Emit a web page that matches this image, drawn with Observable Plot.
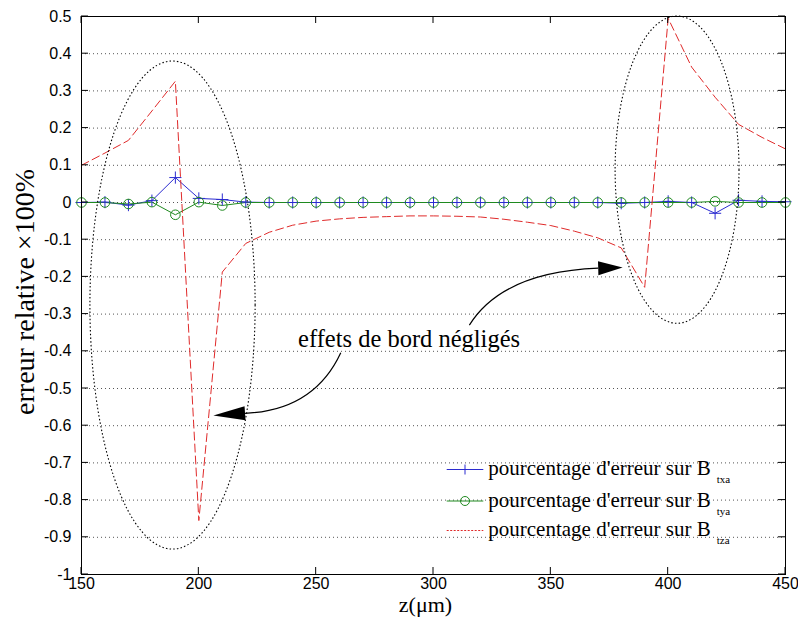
<!DOCTYPE html>
<html><head><meta charset="utf-8">
<script src="https://cdn.jsdelivr.net/npm/d3@7"></script>
<script src="https://cdn.jsdelivr.net/npm/@observablehq/plot@0.6"></script>
<style>html,body{margin:0;padding:0;background:#fff;} svg{display:block}</style>
</head><body><div id="chart"></div>
<script>
// ---- data ----
const zUm = [150,160,170,180,190,200,210,220,230,240,250,260,270,280,290,300,310,320,330,340,350,360,370,380,390,400,410,420,430,440,450];
const errBtxa = [0,0.001,-0.007,0.005,0.067,0.011,0.008,0.001,0,0,0,0,0,0,0,0,0,0,0,0,0,0,0,-0.002,0,0.003,0,-0.029,0.006,0.003,0.002];
const errBtya = [0,0,-0.004,0.001,-0.033,0.001,-0.008,0,0,0,0,0,0,0,0,0,0,0,0,0,0,0,0,0,0,0,0,0.003,0,0,0];
const errBtza = [0.10,0.133,0.167,0.246,0.326,-0.855,-0.187,-0.11,-0.08,-0.061,-0.05,-0.044,-0.040,-0.038,-0.036,-0.036,-0.037,-0.039,-0.045,-0.053,-0.062,-0.077,-0.095,-0.122,-0.228,0.495,0.364,0.283,0.21,0.175,0.144];
const xTicks = [150,200,250,300,350,400,450];
const yTicks = [0.5,0.4,0.3,0.2,0.1,0,-0.1,-0.2,-0.3,-0.4,-0.5,-0.6,-0.7,-0.8,-0.9,-1];
const yTickLabels = ["0.5","0.4","0.3","0.2","0.1","0","-0.1","-0.2","-0.3","-0.4","-0.5","-0.6","-0.7","-0.8","-0.9","-1"];
const seriesNames = ["pourcentage d'erreur sur B","pourcentage d'erreur sur B","pourcentage d'erreur sur B"];
const seriesSubs = ["txa","tya","tza"];
const xLabel = "z(\u03bcm)";
const yLabel = "erreur relative \u00d7100%";
const noteText = "effets de bord n\u00e9glig\u00e9s";

// annotations (data units)
const ellipses = [
  {cx:189.0, cy:-0.277, rx:35.2, ry:0.656},
  {cx:404.0, cy:0.087, rx:26.4, ry:0.413}
];
const arrows = [
  {s:[260.7,-0.405], c:[249.3,-0.560], e:[219.9,-0.568], t:[206.4,-0.574]},
  {s:[315.5,-0.331], c:[329.7,-0.188], e:[370.4,-0.178], t:[380.8,-0.176]}
];
const note = {x:289.8, y:-0.39};

// ---- styles ----
const BLUE = "#2b2bd0", GREEN = "#1f8a1f", RED = "#e02a2a";
const SERIF = "'Liberation Serif','Times New Roman',serif";
const SANS = "'Liberation Sans',Arial,sans-serif";

const rows = (vals) => zUm.map((z,i)=>({z, v: vals[i]}));
const rX = rows(errBtxa), rY = rows(errBtya), rZ = rows(errBtza);

const chart = Plot.plot({
  width: 798, height: 618,
  marginLeft: 81, marginRight: 13, marginTop: 16, marginBottom: 44,
  style: {background: "white", fontFamily: SANS, fontSize: "16px", color: "black"},
  x: {domain: [150, 450], label: null},
  y: {domain: [-1, 0.5], label: null},
  marks: [
    Plot.gridY(yTicks, {stroke: "#555", strokeOpacity: 1, strokeDasharray: "1,3"}),
    Plot.axisX(xTicks, {tickSize: 0, tickPadding: 3, fontSize: 16, tickFormat: d => String(d), label: null}),
    Plot.axisY(yTicks, {tickSize: 0, tickPadding: 10, fontSize: 16, tickFormat: d => yTickLabels[yTicks.indexOf(d)], label: null}),
    Plot.line(rX, {x: "z", y: "v", stroke: BLUE, strokeWidth: 1}),
    Plot.line(rY, {x: "z", y: "v", stroke: GREEN, strokeWidth: 1}),
    Plot.dot(rX, {x: "z", y: "v", symbol: "plus", r: 4, stroke: BLUE, fill: "none", strokeWidth: 1}),
    Plot.dot(rY, {x: "z", y: "v", r: 4.8, stroke: GREEN, fill: "none", strokeWidth: 1}),
    Plot.line(rZ, {x: "z", y: "v", stroke: RED, strokeWidth: 1, strokeDasharray: "8,4"}),
    Plot.frame({stroke: "black", strokeWidth: 1})
  ]
});
document.getElementById("chart").appendChild(chart);

// ---- post-processing via Plot scales ----
const xs = chart.scale("x"), ys = chart.scale("y");
const X = v => xs.apply(v), Y = v => ys.apply(v);
const svg = d3.select(chart);
const L = X(150), R = X(450), T = Y(0.5), B = Y(-1);
const TL = 7;
const g = svg.append("g").attr("stroke", "black").attr("stroke-width", 1);
xTicks.forEach(t => {
  g.append("line").attr("x1", X(t)).attr("x2", X(t)).attr("y1", B).attr("y2", B - TL);
  g.append("line").attr("x1", X(t)).attr("x2", X(t)).attr("y1", T).attr("y2", T + TL);
});
yTicks.forEach(t => {
  g.append("line").attr("x1", L).attr("x2", L + TL).attr("y1", Y(t)).attr("y2", Y(t));
  g.append("line").attr("x1", R).attr("x2", R - TL).attr("y1", Y(t)).attr("y2", Y(t));
});

// ellipses
ellipses.forEach(e => {
  svg.append("ellipse")
    .attr("cx", X(e.cx)).attr("cy", Y(e.cy))
    .attr("rx", X(e.cx + e.rx) - X(e.cx)).attr("ry", Y(e.cy - e.ry) - Y(e.cy))
    .attr("fill", "none").attr("stroke", "black").attr("stroke-width", 1.1)
    .attr("stroke-dasharray", "1.5,2.2");
});

// arrows
arrows.forEach(a => {
  const s = [X(a.s[0]), Y(a.s[1])], c = [X(a.c[0]), Y(a.c[1])], e = [X(a.e[0]), Y(a.e[1])], t = [X(a.t[0]), Y(a.t[1])];
  svg.append("path").attr("d", `M${s}Q${c} ${e}`).attr("fill", "none").attr("stroke", "black").attr("stroke-width", 1.2);
  const dx = t[0] - e[0], dy = t[1] - e[1], len = Math.hypot(dx, dy);
  const px = -dy / len * 7, py = dx / len * 7;
  svg.append("polygon").attr("points", `${t} ${e[0]+px},${e[1]+py} ${e[0]-px},${e[1]-py}`).attr("fill", "black");
});

// note
svg.append("text").attr("x", X(note.x)).attr("y", Y(note.y)).attr("text-anchor", "middle")
  .attr("font-family", SERIF).attr("font-size", 24.5).attr("fill", "black").text(noteText);

// axis labels
svg.append("text").attr("x", 425.5).attr("y", 612).attr("text-anchor", "middle")
  .attr("font-family", SERIF).attr("font-size", 22).attr("fill", "black").text(xLabel);
svg.append("text").attr("transform", "translate(34,292) rotate(-90)").attr("text-anchor", "middle")
  .attr("font-family", SERIF).attr("font-size", 28).attr("fill", "black").text(yLabel);

// legend
const legColors = [BLUE, GREEN, RED];
const baselines = [475, 506.5, 536];
const lg = svg.append("g").attr("text-anchor", "start");
seriesNames.forEach((name, i) => {
  const by = baselines[i], ly = by - 5.5;
  const line = lg.append("line").attr("x1", 446.7).attr("x2", 483.3).attr("y1", ly).attr("y2", ly)
    .attr("stroke", legColors[i]).attr("stroke-width", 1);
  if (i === 2) line.attr("stroke-dasharray", "2,1.5");
  if (i === 0) lg.append("path").attr("d", `M460,${ly}H470M465,${ly-5}V${ly+5}`).attr("stroke", BLUE).attr("fill", "none");
  if (i === 1) lg.append("circle").attr("cx", 465).attr("cy", ly).attr("r", 4.5).attr("stroke", GREEN).attr("fill", "none");
  const tx = lg.append("text").attr("x", 488.3).attr("y", by).attr("text-anchor", "start")
    .attr("font-family", SERIF).attr("font-size", 21).attr("fill", "black").text(name);
  tx.append("tspan").attr("font-size", 11).attr("dx", 6).attr("dy", 8).text(seriesSubs[i]);
});
</script></body></html>
